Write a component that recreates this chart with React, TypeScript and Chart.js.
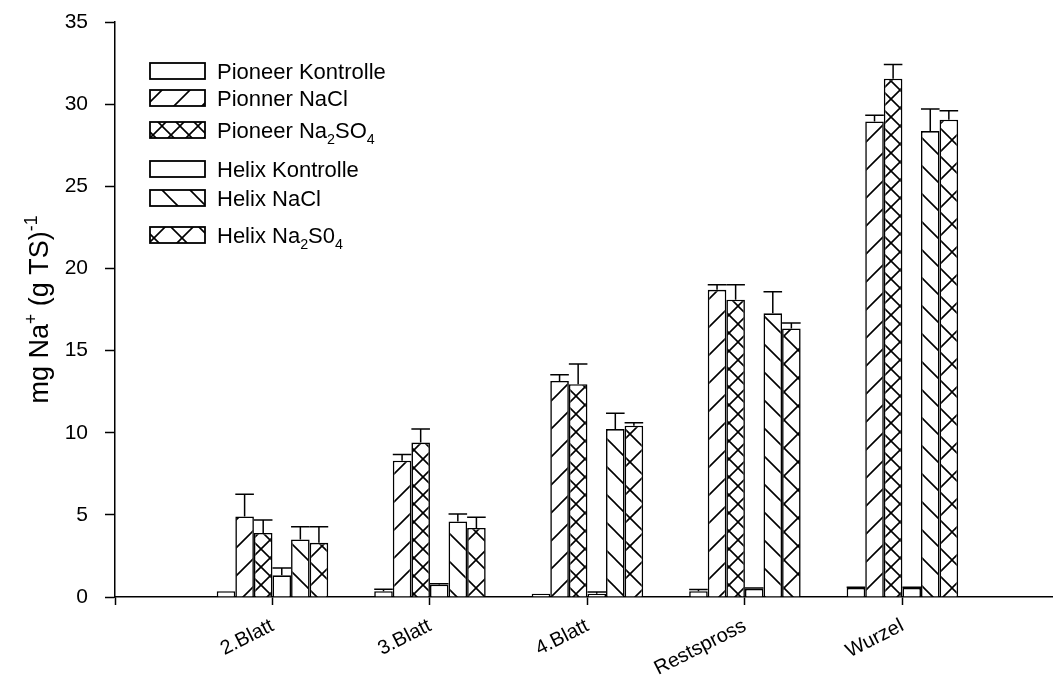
import React, { useEffect, useRef } from 'react';
import { Chart, registerables } from 'chart.js';

Chart.register(...registerables);

// ---------- data ----------
const categories = ['2.Blatt', '3.Blatt', '4.Blatt', 'Restspross', 'Wurzel'];
const seriesLabels = [
  'Pioneer Kontrolle',
  'Pionner NaCl',
  'Pioneer Na₂SO₄',
  'Helix Kontrolle',
  'Helix NaCl',
  'Helix Na₂S0₄',
];
const pioneerKontrolle = [0.35, 0.35, 0.2, 0.35, 0.55];
const pioneerKontrolleErr = [0, 0.12, 0, 0.1, 0.05];
const pioneerNaCl = [4.9, 8.3, 13.15, 18.7, 28.95];
const pioneerNaClErr = [1.36, 0.37, 0.38, 0.3, 0.37];
const pioneerNa2SO4 = [3.9, 9.4, 12.95, 18.1, 31.55];
const pioneerNa2SO4Err = [0.78, 0.83, 1.24, 0.9, 0.87];
const helixKontrolle = [1.32, 0.75, 0.2, 0.5, 0.55];
const helixKontrolleErr = [0.45, 0.05, 0.1, 0.05, 0.05];
const helixNaCl = [3.5, 4.6, 10.22, 17.27, 28.36];
const helixNaClErr = [0.77, 0.45, 0.96, 1.31, 1.34];
const helixNa2S04 = [3.3, 4.2, 10.43, 16.35, 29.05];
const helixNa2S04Err = [0.98, 0.65, 0.18, 0.33, 0.55];

const yTicks = [0, 5, 10, 15, 20, 25, 30, 35];
const yTitle = 'mg Na⁺ (g TS)⁻¹';

const seriesValues = [pioneerKontrolle, pioneerNaCl, pioneerNa2SO4, helixKontrolle, helixNaCl, helixNa2S04];
const seriesErrors = [pioneerKontrolleErr, pioneerNaClErr, pioneerNa2SO4Err, helixKontrolleErr, helixNaClErr, helixNa2S04Err];
const seriesPatterns = ['none', 'fwd', 'cross', 'none', 'back', 'crossWide'];

// ---------- styling helpers ----------
const FONT = '"Liberation Sans", Arial, Helvetica, sans-serif';

function makePattern(kind: string): CanvasPattern | string {
  if (kind === 'none') return '#ffffff';
  const p = kind === 'cross' ? 18 : 28;
  const c = document.createElement('canvas');
  c.width = p;
  c.height = p;
  const g = c.getContext('2d')!;
  g.fillStyle = '#ffffff';
  g.fillRect(0, 0, p, p);
  g.strokeStyle = '#000000';
  g.lineWidth = 1.6;
  const fwd = () => {
    g.beginPath();
    g.moveTo(0, p);
    g.lineTo(p, 0);
    g.moveTo(-3, 3);
    g.lineTo(3, -3);
    g.moveTo(p - 3, p + 3);
    g.lineTo(p + 3, p - 3);
    g.stroke();
  };
  const back = () => {
    g.beginPath();
    g.moveTo(0, 0);
    g.lineTo(p, p);
    g.moveTo(-3, p - 3);
    g.lineTo(3, p + 3);
    g.moveTo(p - 3, -3);
    g.lineTo(p + 3, 3);
    g.stroke();
  };
  if (kind === 'fwd') fwd();
  if (kind === 'back') back();
  if (kind === 'cross' || kind === 'crossWide') {
    fwd();
    back();
  }
  const pat = g.createPattern(c, 'repeat');
  return pat || '#ffffff';
}

type Seg = { t: string; s?: 'sub' | 'sup' };
const SUB: Record<string, string> = { '₀': '0', '₁': '1', '₂': '2', '₃': '3', '₄': '4' };
const SUP: Record<string, string> = { '⁺': '+', '⁻': '-', '¹': '1', '²': '2', '³': '3' };

function parseRich(str: string): Seg[] {
  const segs: Seg[] = [];
  for (const ch of Array.from(str)) {
    let seg: Seg;
    if (SUB[ch]) seg = { t: SUB[ch], s: 'sub' };
    else if (SUP[ch]) seg = { t: SUP[ch], s: 'sup' };
    else seg = { t: ch };
    const last = segs[segs.length - 1];
    if (last && last.s === seg.s) last.t += seg.t;
    else segs.push(seg);
  }
  return segs;
}

function richWidth(ctx: CanvasRenderingContext2D, segs: Seg[], size: number) {
  let w = 0;
  for (const s of segs) {
    const fs = s.s ? size * 0.65 : size;
    ctx.font = `${fs}px ${FONT}`;
    w += ctx.measureText(s.t).width;
  }
  return w;
}

function drawRich(ctx: CanvasRenderingContext2D, segs: Seg[], x: number, y: number, size: number) {
  let cx = x;
  ctx.textBaseline = 'alphabetic';
  ctx.textAlign = 'left';
  for (const s of segs) {
    const fs = s.s ? size * 0.65 : size;
    ctx.font = `${fs}px ${FONT}`;
    const dy = s.s === 'sub' ? size * 0.28 : s.s === 'sup' ? -size * 0.42 : 0;
    ctx.fillText(s.t, cx, y + dy);
    cx += ctx.measureText(s.t).width;
  }
}

const errorBarPlugin = {
  id: 'errorBars',
  afterDatasetsDraw(chart: any) {
    const ctx: CanvasRenderingContext2D = chart.ctx;
    const yScale = chart.scales.y;
    chart.data.datasets.forEach((_ds: any, di: number) => {
      const meta = chart.getDatasetMeta(di);
      const errs = seriesErrors[di];
      const vals = seriesValues[di];
      meta.data.forEach((bar: any, i: number) => {
        const e = errs[i];
        if (!e) return;
        const yTop = yScale.getPixelForValue(vals[i] + e);
        const { x, y, width } = bar.getProps(['x', 'y', 'width'], true);
        ctx.save();
        ctx.strokeStyle = '#000';
        ctx.lineWidth = 1.5;
        ctx.beginPath();
        ctx.moveTo(x, y);
        ctx.lineTo(x, yTop);
        ctx.moveTo(x - width / 2, yTop);
        ctx.lineTo(x + width / 2, yTop);
        ctx.stroke();
        ctx.restore();
      });
    });
  },
};

const legendRowsY = [71, 98, 130, 169, 198, 235];

const customPlugin = {
  id: 'customDecor',
  afterDraw(chart: any) {
    const ctx: CanvasRenderingContext2D = chart.ctx;
    ctx.save();
    ctx.fillStyle = '#000';
    // legend
    chart.data.datasets.forEach((ds: any, i: number) => {
      const cy = legendRowsY[i];
      const bx = 150;
      const bw = 55;
      const bh = 16;
      ctx.fillStyle = ds.backgroundColor;
      ctx.fillRect(bx, cy - bh / 2, bw, bh);
      ctx.strokeStyle = '#000';
      ctx.lineWidth = 1.8;
      ctx.strokeRect(bx, cy - bh / 2, bw, bh);
      ctx.fillStyle = '#000';
      drawRich(ctx, parseRich(ds.label), 217, cy + 8, 22);
    });
    // y axis title
    const area = chart.chartArea;
    const segs = parseRich(yTitle);
    const size = 27;
    const w = richWidth(ctx, segs, size);
    ctx.translate(48, (area.top + area.bottom) / 2);
    ctx.rotate(-Math.PI / 2);
    ctx.fillStyle = '#000';
    drawRich(ctx, segs, -w / 2, 0, size);
    ctx.restore();
  },
};

export default function App() {
  const ref = useRef<HTMLCanvasElement | null>(null);

  useEffect(() => {
    if (!ref.current) return;
    const datasets = seriesLabels.map((label, si) => ({
      label,
      data: seriesValues[si].map((v, ci) => ({ x: ci + 1, y: v })),
      backgroundColor: makePattern(seriesPatterns[si]),
      borderColor: '#000000',
      borderWidth: 1.6,
      borderSkipped: 'start' as const,
      categoryPercentage: 0.708,
      barPercentage: 1,
    }));

    const chart = new Chart(ref.current, {
      type: 'bar',
      data: { datasets: datasets as any },
      options: {
        animation: false,
        responsive: false,
        devicePixelRatio: 1,
        layout: { padding: { top: 22, right: 1, bottom: 0, left: 0 } },
        plugins: {
          legend: { display: false },
          tooltip: { enabled: false },
        },
        scales: {
          x: {
            type: 'linear',
            min: 0,
            max: 5.95,
            offset: false,
            afterBuildTicks: (scale: any) => {
              scale.ticks = [0, 1, 2, 3, 4, 5].map((v) => ({ value: v }));
            },
            afterFit: (scale: any) => {
              scale.height = 88;
              scale.paddingLeft = 0;
              scale.paddingRight = 0;
            },
            grid: {
              display: true,
              offset: false,
              drawOnChartArea: false,
              drawTicks: true,
              tickLength: 8,
              tickColor: '#000',
              tickWidth: 1.5,
            },
            border: { display: true, color: '#000', width: 1.5 },
            ticks: {
              autoSkip: false,
              maxRotation: 27,
              minRotation: 27,
              padding: 9,
              color: '#000',
              font: { family: FONT, size: 20 },
              callback: (v: any) => categories[Number(v) - 1] ?? '',
            },
          },
          y: {
            type: 'linear',
            min: 0,
            max: 35,
            afterBuildTicks: (scale: any) => {
              scale.ticks = yTicks.map((v) => ({ value: v }));
            },
            afterFit: (scale: any) => {
              scale.width = 115;
              scale.paddingTop = 0;
              scale.paddingBottom = 0;
            },
            grid: {
              display: true,
              drawOnChartArea: false,
              drawTicks: true,
              tickLength: 10,
              tickColor: '#000',
              tickWidth: 1.5,
            },
            border: { display: true, color: '#000', width: 1.5 },
            ticks: {
              padding: 17,
              color: '#000',
              font: { family: FONT, size: 21 },
            },
          },
        },
      },
      plugins: [errorBarPlugin, customPlugin],
    });
    return () => chart.destroy();
  }, []);

  return (
    <div style={{ position: 'fixed', left: 0, top: 0, width: 1053, height: 685, background: '#fff' }}>
      <canvas ref={ref} width={1053} height={685} style={{ display: 'block' }} />
    </div>
  );
}
